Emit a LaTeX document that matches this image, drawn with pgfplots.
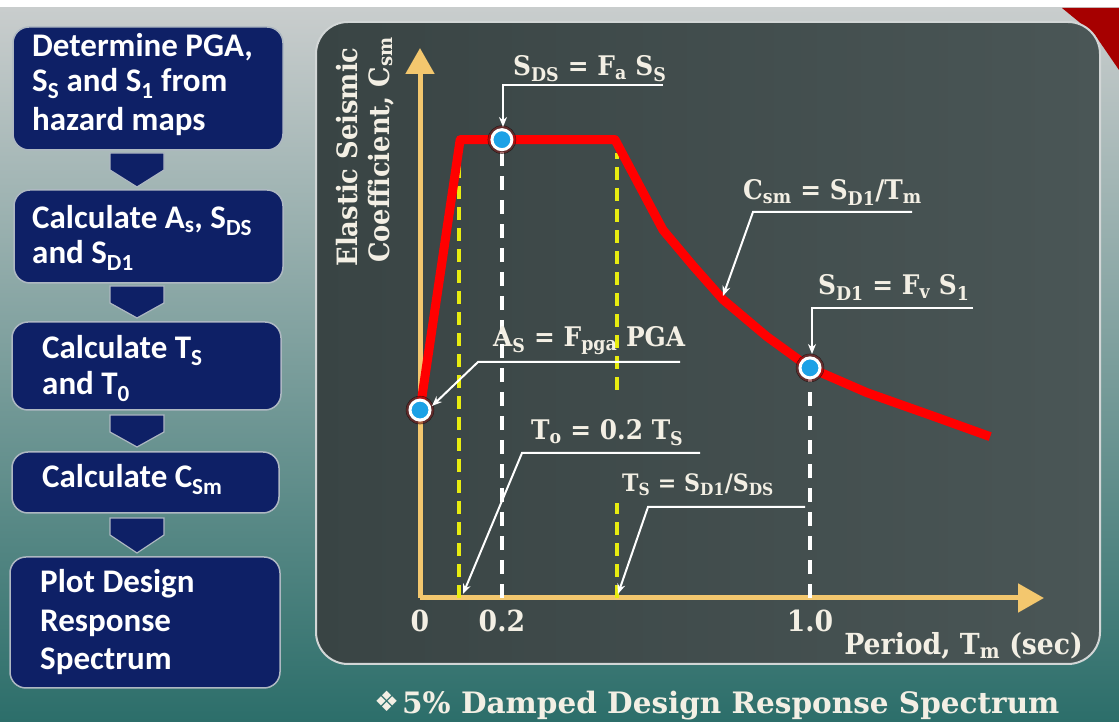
\documentclass[border=0pt]{standalone}
\usepackage{pgfplots}
\pgfplotsset{compat=1.18}
\usepackage{fontspec}
\usetikzlibrary{arrows.meta}
\setmainfont{DejaVu Serif}
\newfontfamily\boxfont{Carlito}
\newfontfamily\cf[FakeStretch=0.92]{DejaVu Serif}
\newfontfamily\symfont{DejaVu Sans}

\definecolor{navy}{HTML}{0E2066}
\definecolor{boxline}{HTML}{AEB8C2}
\definecolor{panelL}{HTML}{394444}
\definecolor{panelR}{HTML}{4A5656}
\definecolor{panelline}{HTML}{D2D6D6}
\definecolor{axcol}{HTML}{F3C76E}
\definecolor{txt}{HTML}{F3EFE4}
\definecolor{dotblue}{HTML}{1DA1E6}
\definecolor{glow}{HTML}{7A1A1A}
\definecolor{ylw}{HTML}{E8EC10}
\definecolor{bgtop}{HTML}{C9CDCD}
\definecolor{bgmid}{HTML}{8FA6A4}
\definecolor{bgbot}{HTML}{2C6E6A}

\newcommand{\bxf}{\fontsize{33}{36}\selectfont\boxfont\bfseries}
\newcommand{\ct}{\fontsize{27}{32}\selectfont\cf\bfseries}

\tikzset{
  px/.style={x=1pt,y=-1pt,shift={(0pt,722pt)}},
  navybox/.style={fill=navy,draw=boxline,line width=1.5pt,rounded corners=16pt},
  chev/.style={fill=navy,draw=boxline,line width=1.2pt},
  leadarr/.style={draw=white,line width=2pt,-{Stealth[length=10pt,width=8pt]}},
  lbl/.style={anchor=base west,inner sep=0pt,text=txt,font=\ct},
  btxt/.style={anchor=base west,inner sep=0pt,text=white,font=\bxf},
}
\newcommand{\chev}[2]{\draw[chev] (110,#1) -- (164,#1) -- (164,#1+17) -- (137,#2) -- (110,#1+17) -- cycle;}

\begin{document}
\begin{tikzpicture}
% slide background, panel and flow boxes (pixel grid, y downwards)
\begin{scope}[px]
  \fill[white] (0,0) rectangle (1119,722);
  \shade[top color=bgtop, middle color=bgmid, bottom color=bgbot] (0,8) rectangle (1119,722);
  \fill[red!65!black] (1062,8) -- (1119,8) -- (1119,70) -- (1095,35) -- cycle;
  \shade[rounded corners=32pt, left color=panelL, right color=panelR] (316,22) rectangle (1100,664);
  \draw[rounded corners=32pt, panelline, line width=2pt] (316,22) rectangle (1100,664);

  \draw[navybox] (13,27) rectangle (283,150);
  \chev{153}{187}
  \draw[navybox] (14,190) rectangle (283,283);
  \chev{286}{318}
  \draw[navybox] (12,322) rectangle (281,410);
  \chev{415}{447}
  \draw[navybox] (12,452) rectangle (279,513);
  \chev{518}{553}
  \draw[navybox] (10,557) rectangle (280,688);

  \node[btxt] at (32,57) {Determine PGA,};
  \node[btxt] at (32,92) {S\textsubscript{S} and S\textsubscript{1} from};
  \node[btxt] at (32,131) {hazard maps};
  \node[btxt] at (32,229) {Calculate A\textsubscript{s}, S\textsubscript{DS}};
  \node[btxt] at (32,264) {and S\textsubscript{D1}};
  \node[btxt] at (42,359) {Calculate T\textsubscript{S}};
  \node[btxt] at (42,395) {and T\textsubscript{0}};
  \node[btxt] at (42,488) {Calculate C\textsubscript{Sm}};
  \node[btxt] at (40,593) {Plot Design};
  \node[btxt] at (40,632) {Response};
  \node[btxt] at (40,670) {Spectrum};
\end{scope}

\begin{axis}[
  at={(420pt,124pt)}, anchor=south west,
  scale only axis, width=624pt, height=550pt,
  xmin=0, xmax=1.6, ymin=0, ymax=1.2,
  axis lines*=left,
  axis line style={line width=5pt, draw=axcol, -{Triangle[length=26pt,width=28pt]}},
  xtick={0,0.21,1}, xticklabels={0,0.2,1.0}, ytick=\empty,
  major tick length=0pt,
  xticklabel style={font=\fontsize{29}{34}\selectfont\cf\bfseries, text=txt, anchor=base, yshift=-34pt},
  clip=false,
]
  % T0 and TS
  \addplot[ylw, line width=3.5pt, dash pattern=on 13pt off 8pt] coordinates {(0.1,0) (0.1,0.97)};
  \addplot[ylw, line width=3.5pt, dash pattern=on 13pt off 8pt] coordinates {(0.505,0) (0.505,0.207)};
  \addplot[ylw, line width=3.5pt, dash pattern=on 13pt off 8pt] coordinates {(0.505,0.454) (0.505,0.97)};
  % 0.2 s and 1.0 s
  \addplot[white, line width=3.5pt, dash pattern=on 14pt off 10pt] coordinates {(0.21,0) (0.21,1)};
  \addplot[white, line width=3.5pt, dash pattern=on 14pt off 10pt] coordinates {(1,0) (1,0.5)};
  % design spectrum
  \addplot[red, line width=9pt, line join=round] coordinates {
    (0,0.41) (0.103,1.0) (0.50,1.0) (0.623,0.803) (0.70,0.725) (0.777,0.651)
    (0.89,0.570) (1.0,0.502) (1.146,0.448) (1.315,0.397) (1.462,0.352)};
  \addplot[only marks, mark=*, mark size=14pt, mark options={fill=glow, draw=none, opacity=0.6}]
    coordinates {(0,0.41) (0.21,1) (1,0.502)};
  \addplot[only marks, mark=*, mark size=10pt, mark options={fill=dotblue, draw=white, line width=3pt}]
    coordinates {(0,0.41) (0.21,1) (1,0.502)};
\end{axis}

% annotations
\begin{scope}[px]
  \node[lbl] at (513,76) {S\textsubscript{DS} = F\textsubscript{a} S\textsubscript{S}};
  \draw[leadarr] (663,85) -- (503,85) -- (503,127);
  \node[lbl] at (493,347) {A\textsubscript{S} = F\textsubscript{pga} PGA};
  \draw[leadarr] (680,362) -- (478,362) -- (432,406);
  \node[lbl] at (531,440) {T\textsubscript{o} = 0.2 T\textsubscript{S}};
  \draw[leadarr] (700,453) -- (522,453) -- (463,594);
  \node[lbl, font=\fontsize{24}{30}\selectfont\cf\bfseries] at (622,492) {T\textsubscript{S} = S\textsubscript{D1}/S\textsubscript{DS}};
  \draw[leadarr] (805,507) -- (648,507) -- (618,594);
  \node[lbl] at (743,200) {C\textsubscript{sm} = S\textsubscript{D1}/T\textsubscript{m}};
  \draw[leadarr] (912,212) -- (753,212) -- (723,296);
  \node[lbl] at (818,295) {S\textsubscript{D1} = F\textsubscript{v} S\textsubscript{1}};
  \draw[leadarr] (973,308) -- (812,308) -- (812,354);

  \node[anchor=base east, inner sep=0pt, text=txt, font=\fontsize{29}{34}\selectfont\cf\bfseries] at (1083,655) {Period, T\textsubscript{m} (sec)};
  \node[rotate=90, anchor=base, inner sep=0pt, text=txt, font=\fontsize{28}{32}\selectfont\cf\bfseries] at (357,157) {Elastic Seismic};
  \node[rotate=90, anchor=base, inner sep=0pt, text=txt, font=\fontsize{28}{32}\selectfont\cf\bfseries] at (389,150) {Coefficient, C\textsubscript{sm}};

  \node[anchor=base west, inner sep=0pt, text=txt, font=\symfont\fontsize{28}{32}\selectfont] at (374,712) {❖};
  \node[anchor=base west, inner sep=0pt, text=txt, font=\fontsize{29.5}{34}\selectfont\bfseries] at (402,714) {5\% Damped Design Response Spectrum};
\end{scope}
\end{tikzpicture}
\end{document}
